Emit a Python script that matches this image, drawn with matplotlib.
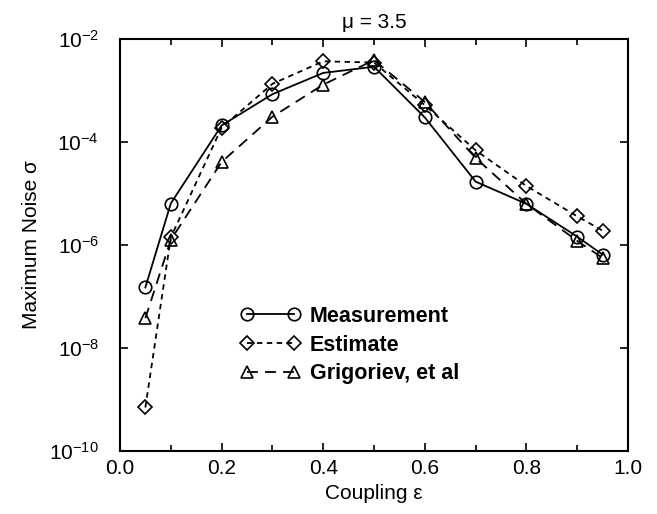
import numpy as np
import matplotlib.pyplot as plt
from matplotlib.ticker import FixedLocator, MultipleLocator

plt.rcParams['font.family'] = ['Liberation Sans', 'DejaVu Sans']
plt.rcParams['mathtext.default'] = 'regular'

coupling = [0.05, 0.1, 0.2, 0.3, 0.4, 0.5, 0.6, 0.7, 0.8, 0.9, 0.95]
measurement = [1.5e-7, 6.4e-6, 2.1e-4, 8.5e-4, 2.2e-3, 2.9e-3, 3.0e-4, 1.7e-5, 6.3e-6, 1.45e-6, 6.5e-7]
estimate = [7e-10, 1.4e-6, 1.9e-4, 1.35e-3, 3.7e-3, 3.5e-3, 5.2e-4, 6.9e-5, 1.4e-5, 3.6e-6, 1.9e-6]
grigoriev = [3.8e-8, 1.26e-6, 4.1e-5, 3.1e-4, 1.3e-3, 3.9e-3, 6.0e-4, 4.9e-5, 6.3e-6, 1.2e-6, 5.6e-7]
ytick_vals = [1e-10, 1e-8, 1e-6, 1e-4, 1e-2]
ytick_labels = [r'10$^{-10}$', r'10$^{-8}$', r'10$^{-6}$', r'10$^{-4}$', r'10$^{-2}$']

fig = plt.figure(figsize=(6.57, 5.14), dpi=100)
ax = fig.add_axes([0.1826, 0.1226, 0.7734, 0.8014])

mk = dict(markersize=9, fillstyle='none', markeredgewidth=1.2, color='black', linewidth=1.3)
ax.plot(coupling, measurement, '-', marker='o', label='Measurement', **mk)
ax.plot(coupling, estimate, marker='D', linestyle=(0, (3, 2.5)), label='Estimate',
        **{**mk, 'markersize': 7})
ax.plot(coupling, grigoriev, marker='^', linestyle=(0, (6, 4)), label='Grigoriev, et al', **mk)

ax.set_yscale('log')
ax.set_xlim(0, 1)
ax.set_ylim(1e-10, 1e-2)
ax.yaxis.set_major_locator(FixedLocator(ytick_vals))
ax.yaxis.set_minor_locator(FixedLocator([]))
ax.set_yticklabels(ytick_labels)
ax.xaxis.set_major_locator(MultipleLocator(0.2))
ax.xaxis.set_minor_locator(MultipleLocator(0.1))
ax.xaxis.set_major_formatter(plt.FuncFormatter(lambda v, p: f'{v:.1f}'))
ax.tick_params(which='both', direction='in', top=True, right=True, labelsize=15, width=1.2)
ax.tick_params(which='major', length=6)
ax.tick_params(which='minor', length=4)
ax.tick_params(axis='x', pad=6)
ax.tick_params(axis='y', pad=15)
for s in ax.spines.values():
    s.set_linewidth(1.5)

ax.set_xlabel('Coupling ε', fontsize=15, labelpad=4)
ax.set_ylabel('Maximum Noise σ', fontsize=15, labelpad=6)
ax.set_title('μ = 3.5', fontsize=15, pad=8)

leg = ax.legend(loc='upper left', bbox_to_anchor=(0.238, 0.352), frameon=False, numpoints=2,
                handlelength=2.75, handletextpad=0.45, labelspacing=0.36, borderpad=0,
                borderaxespad=0, prop={'weight': 'bold', 'size': 15.5})

fig.savefig('out.png', dpi=100)
